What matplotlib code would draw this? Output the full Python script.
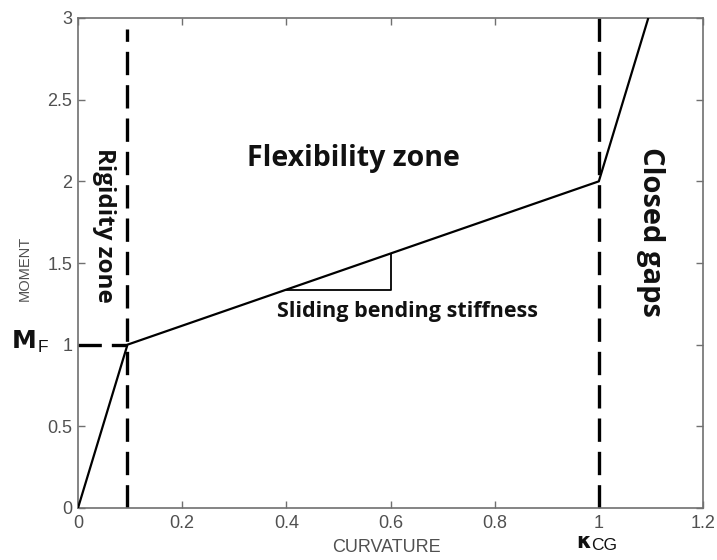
import matplotlib
matplotlib.use("Agg")
import matplotlib.pyplot as plt

# data
curve_x = [0, 0.095, 1.0, 1.095]
curve_y = [0, 1.0, 2.0, 3.0]
rigid_x = 0.095
gap_x = 1.0
mf_y = 1.0
tri_x = [0.4, 0.6, 0.6]
tri_y = [1.337, 1.337, 1.558]
xticks = [0, 0.2, 0.4, 0.6, 0.8, 1, 1.2]
xticklabels = ["0", "0.2", "0.4", "0.6", "0.8", "1", "1.2"]
yticks = [0, 0.5, 1, 1.5, 2, 2.5, 3]
yticklabels = ["0", "0.5", "1", "1.5", "2", "2.5", "3"]

fig = plt.figure(figsize=(7.17, 5.6), dpi=100)
ax = fig.add_axes([78 / 717, 1 - 508 / 560, (703 - 78) / 717, (508 - 18) / 560])

gray = "#707070"
tickfont = ["Liberation Sans", "DejaVu Sans"]
ax.plot(curve_x, curve_y, color="black", lw=1.6, solid_capstyle="butt", zorder=3)
dash = dict(color="black", lw=2.4, linestyle=(0, (7, 3)))
ax.plot([rigid_x, rigid_x], [0, 2.93], **dash)
ax.plot([gap_x, gap_x], [0, 3.0], **dash)
ax.plot([0, rigid_x], [mf_y, mf_y], **dash)
ax.plot(tri_x, tri_y, color="black", lw=1.3)

ax.set_xlim(0, 1.2)
ax.set_ylim(0, 3)
ax.set_xticks(xticks)
ax.set_xticklabels(xticklabels, family=tickfont)
ax.set_yticks(yticks)
ax.set_yticklabels(yticklabels, family=tickfont)
ax.tick_params(direction="in", length=5, color=gray, labelcolor="#505050",
               labelsize=13, top=True, right=True, width=1)
ax.tick_params(axis="x", pad=5)
ax.tick_params(axis="y", pad=4)
for s in ax.spines.values():
    s.set_color(gray)
    s.set_linewidth(1.2)

fig.text(386 / 717, 1 - 548 / 560, "CURVATURE", color="#505050", fontsize=13,
         family=tickfont, ha="center", va="center")
fig.text(25 / 717, 1 - 268 / 560, "MOMENT", color="#505050", fontsize=10.5,
         family=tickfont, ha="center", va="center", rotation=90)

bf = dict(family=["Open Sans", "DejaVu Sans"], fontweight="bold", color="#111111")
ax.text(0.05, 1.73, "Rigidity zone", rotation=-90, ha="center", va="center", fontsize=17.5, **bf)
ax.text(0.528, 2.14, "Flexibility zone", ha="center", va="center", fontsize=20.5, **bf)
ax.text(1.10, 1.69, "Closed gaps", rotation=-90, ha="center", va="center", fontsize=21, **bf)
ax.text(0.632, 1.20, "Sliding bending stiffness", ha="center", va="center", fontsize=15.5, **bf)

fig.text(12 / 717, 1 - 341 / 560, "M", ha="left", va="center", fontsize=18,
         family=["DejaVu Sans"], fontweight="bold", color="#111111")
fig.text(38 / 717, 1 - 347 / 560, "F", ha="left", va="center", fontsize=12.5,
         family=tickfont, color="#111111")
fig.text(576 / 717, 1 - 542 / 560, "κ", ha="left", va="center", fontsize=15,
         family=["DejaVu Sans"], fontweight="bold", color="#111111")
fig.text(591 / 717, 1 - 546 / 560, "CG", ha="left", va="center", fontsize=12.5,
         family=tickfont, color="#111111")

fig.savefig("out.png", dpi=100)
